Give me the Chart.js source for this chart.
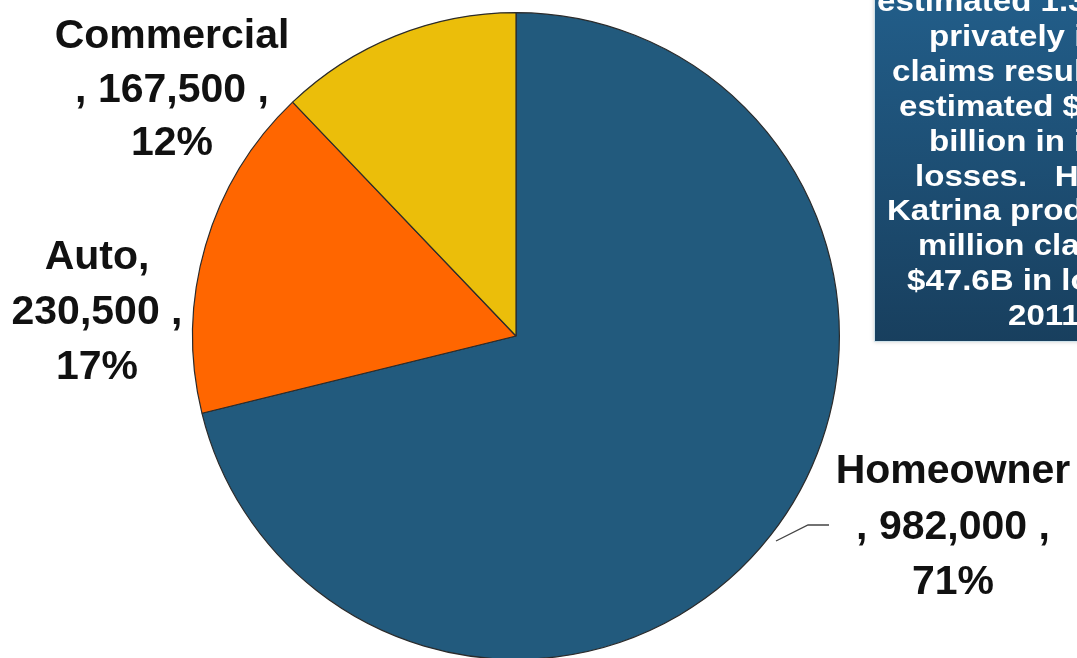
<!DOCTYPE html>
<html>
<head>
<meta charset="utf-8">
<script src="https://cdn.jsdelivr.net/npm/chart.js@4.4.1/dist/chart.umd.min.js"></script>
<style>
  html, body { margin: 0; padding: 0; background: #ffffff; overflow: hidden; }
  #wrap { position: relative; width: 1077px; height: 670px; }
</style>
</head>
<body>
<div id="wrap"><canvas id="c"></canvas></div>
<script>
// ---- data ----
const categories = ['Homeowner', 'Auto', 'Commercial'];
const claims = [982000, 230500, 167500];
const sliceColors = ['#225A7D', '#FF6600', '#EBBE0A'];
const noteLines = [
  'estimated 1.38 million',
  'privately insured',
  'claims resulting in an',
  'estimated $4.3',
  'billion in insured',
  'losses.   Hurricane',
  'Katrina produced 1.7',
  'million claims and',
  '$47.6B in losses (in',
  '2011 dollars)'
];

const total = claims.reduce((a, b) => a + b, 0);
const fmt = v => v.toLocaleString('en-US');
const pct = v => Math.round(v / total * 100) + '%';

const labelLines = [
  ['Homeowner', ', ' + fmt(claims[0]) + ' ,', pct(claims[0])],
  ['Auto,', fmt(claims[1]) + ' ,', pct(claims[1])],
  ['Commercial', ', ' + fmt(claims[2]) + ' ,', pct(claims[2])]
];

// label layout (offsets from pie centre)
const labelLayout = [
  { dx: 437, dy: 136, spacing: 55.5 },
  { dx: -419, dy: -78, spacing: 55 },
  { dx: -344, dy: -299, spacing: 53.5 }
];

const noteStartX = [877, 929, 892, 899, 929, 915, 887, 918, 907, 1008];

const notePlugin = {
  id: 'note',
  afterDraw(chart) {
    const ctx = chart.ctx;
    ctx.save();
    // box
    const bx = 874, by = -10, bw = 260, bh = 352;
    const g = ctx.createLinearGradient(0, by, 0, by + bh);
    g.addColorStop(0, '#225e8a');
    g.addColorStop(1, '#183f5e');
    ctx.shadowColor = 'rgba(0,0,0,0.18)';
    ctx.shadowBlur = 4;
    ctx.fillStyle = g;
    ctx.fillRect(bx, by, bw, bh);
    ctx.shadowBlur = 0;
    ctx.strokeStyle = '#cfe2ea';
    ctx.lineWidth = 1;
    ctx.strokeRect(bx + 0.5, by + 0.5, bw, bh - 1);
    ctx.fillStyle = '#ffffff';
    ctx.font = 'bold 29px "Liberation Sans", Arial, sans-serif';
    ctx.textAlign = 'left';
    ctx.textBaseline = 'alphabetic';
    const sx = 1.14;
    noteLines.forEach((t, i) => {
      ctx.save();
      ctx.translate(noteStartX[i], 11 + 34.9 * i);
      ctx.scale(sx, 1);
      ctx.fillText(t, 0, 0);
      ctx.restore();
    });
    ctx.restore();
  }
};

const labelPlugin = {
  id: 'sliceLabels',
  afterDatasetsDraw(chart) {
    const ctx = chart.ctx;
    const arc = chart.getDatasetMeta(0).data[0];
    const cx = arc.x, cy = arc.y;
    ctx.save();
    // leader line for Homeowner
    ctx.strokeStyle = '#444444';
    ctx.lineWidth = 1.3;
    ctx.beginPath();
    ctx.moveTo(cx + 260, cy + 205);
    ctx.lineTo(cx + 292, cy + 189);
    ctx.lineTo(cx + 313, cy + 189);
    ctx.stroke();
    ctx.fillStyle = '#111111';
    ctx.font = 'bold 41px "Liberation Sans", Arial, sans-serif';
    ctx.textAlign = 'center';
    ctx.textBaseline = 'middle';
    labelLines.forEach((lines, i) => {
      const L = labelLayout[i];
      lines.forEach((t, j) => {
        ctx.fillText(t, cx + L.dx, cy + L.dy + j * L.spacing);
      });
    });
    ctx.restore();
  }
};

new Chart(document.getElementById('c'), {
  type: 'pie',
  data: {
    labels: categories,
    datasets: [{
      data: claims,
      backgroundColor: sliceColors,
      borderColor: '#2b2b2b',
      borderWidth: 1.2
    }]
  },
  options: {
    responsive: true,
    maintainAspectRatio: false,
    animation: false,
    layout: { padding: { top: 12, bottom: 10, left: 0, right: 45 } },
    plugins: {
      legend: { display: false },
      tooltip: { enabled: false }
    }
  },
  plugins: [labelPlugin, notePlugin]
});
</script>
</body>
</html>
